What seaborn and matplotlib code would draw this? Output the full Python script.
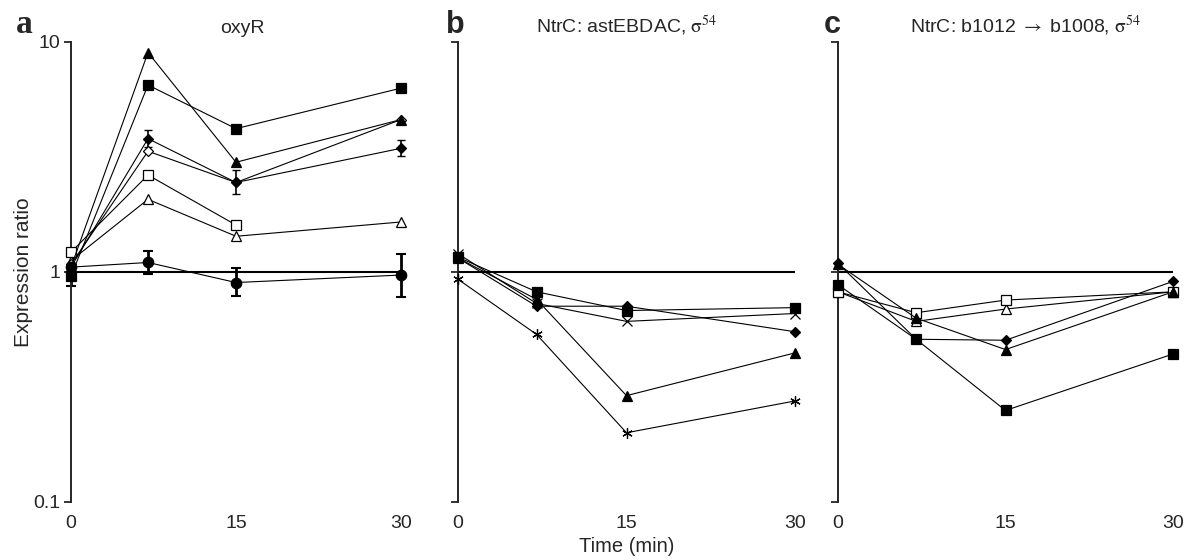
import numpy as np
import pandas as pd
import seaborn as sns
import matplotlib.pyplot as plt

sns.set_style("ticks")
plt.rcParams['font.family'] = ['Liberation Sans', 'DejaVu Sans']
plt.rcParams['mathtext.fontset'] = 'stix'

# time points (min)
t = [0, 7, 15, 30]
t_short = [0, 7, 15]

# panel a - oxyR
a_sq_fill = [0.96, 6.5, 4.2, 6.3]
a_tri_fill = [1.05, 9.0, 3.0, 4.6]
a_dia_fill = [1.05, 3.8, 2.45, 3.45]
a_dia_fill_lo = [0.0, 0.3, 0.26, 0.25]
a_dia_fill_hi = [0.0, 0.35, 0.34, 0.3]
a_dia_open = [1.08, 3.35, 2.45, 4.6]
a_sq_open = [1.22, 2.64, 1.6]
a_tri_open = [1.12, 2.07, 1.43, 1.65]
a_circ = [1.05, 1.1, 0.9, 0.97]
a_circ_lo = [0.18, 0.12, 0.11, 0.19]
a_circ_hi = [0.0, 0.14, 0.14, 0.23]

# panel b - NtrC: astEBDAC
b_sq = [1.16, 0.82, 0.68, 0.70]
b_dia = [1.15, 0.71, 0.71, 0.55]
b_tri = [1.15, 0.76, 0.29, 0.445]
b_x = [1.2, 0.73, 0.61, 0.66]
b_ast = [0.93, 0.535, 0.20, 0.275]

# panel c - NtrC: b1012 -> b1008
c_dia = [1.09, 0.51, 0.505, 0.91]
c_tri = [1.08, 0.63, 0.46, 0.82]
c_sq = [0.88, 0.51, 0.25, 0.44]
c_sq_open = [0.82, 0.665, 0.755, 0.82]
c_tri_open = [0.82, 0.61, 0.69, 0.82]

titles = ['oxyR', r'NtrC: astEBDAC, $\mathrm{\sigma}^{54}$',
          r'NtrC: b1012 $\rightarrow$ b1008, $\mathrm{\sigma}^{54}$']
letters = ['a', 'b', 'c']

fig = plt.figure(figsize=(11.95, 5.6), dpi=100)
W, H = 1195, 560
boxes = [(71, 401), (458, 795), (838, 1173)]
axes = []
for x0, x1 in boxes:
    ax = fig.add_axes([x0 / W, 1 - 502 / H, (x1 - x0) / W, 460 / H])
    axes.append(ax)


def series(ax, x, y, marker, filled=True, ms=7.5):
    sns.lineplot(x=x, y=y, ax=ax, color='k', linewidth=0.8, marker=marker,
                 markersize=ms, markerfacecolor='k' if filled else 'white',
                 markeredgecolor='k', markeredgewidth=0.9, errorbar=None,
                 clip_on=False, zorder=3)


ax = axes[0]
series(ax, t, a_tri_open, '^', False)
series(ax, t_short, a_sq_open, 's', False)
series(ax, t, a_dia_open, 'D', False, 5.5)
series(ax, t, a_dia_fill, 'D', True, 5.5)
series(ax, t, a_tri_fill, '^')
series(ax, t, a_sq_fill, 's')
series(ax, t, a_circ, 'o')
ax.errorbar(t, a_dia_fill, yerr=[a_dia_fill_lo, a_dia_fill_hi], fmt='none',
            ecolor='k', elinewidth=1.2, capsize=3, clip_on=False)
ax.errorbar(t, a_circ, yerr=[a_circ_lo, a_circ_hi], fmt='none',
            ecolor='k', elinewidth=2, capsize=3.5, capthick=1.5, clip_on=False)

ax = axes[1]
series(ax, t, b_ast, (6, 2, 0))
series(ax, t, b_x, 'x')
series(ax, t, b_tri, '^')
series(ax, t, b_dia, 'D', True, 5.5)
series(ax, t, b_sq, 's')

ax = axes[2]
series(ax, t, c_tri_open, '^', False)
series(ax, t, c_sq_open, 's', False)
series(ax, t, c_tri, '^')
series(ax, t, c_dia, 'D', True, 5.5)
series(ax, t, c_sq, 's')

for i, ax in enumerate(axes):
    ax.set_yscale('log')
    ax.set_ylim(0.1, 10)
    ax.set_xlim(0, 30)
    ax.axhline(1, color='k', lw=1.5, zorder=2)
    ax.set_yticks([0.1, 1, 10])
    ax.minorticks_off()
    ax.set_xticks([0, 15, 30])
    ax.set_xticklabels(['0', '15', '30'])
    ax.tick_params(axis='x', length=0, pad=9, labelsize=14)
    ax.tick_params(axis='y', length=5, width=1.3, direction='out', labelsize=14, pad=3)
    for s in ['top', 'right', 'bottom']:
        ax.spines[s].set_visible(False)
    ax.spines['left'].set_linewidth(1.4)
    ax.set_xlabel('')
    ax.set_ylabel('')
    if i == 0:
        ax.set_yticklabels(['0.1', '1', '10'])
    else:
        ax.set_yticklabels([])

axes[0].set_ylabel('Expression ratio', fontsize=15, labelpad=0)

fig.text(24 / W, 1 - 33 / H, letters[0], fontsize=24, fontweight='bold',
         ha='center', va='baseline', family='Liberation Serif')
fig.text(455 / W, 1 - 33 / H, letters[1], fontsize=22, fontweight='bold',
         ha='center', va='baseline')
fig.text(832 / W, 1 - 33 / H, letters[2], fontsize=22, fontweight='bold',
         ha='center', va='baseline')

fig.text(242 / W, 1 - 33 / H, titles[0], fontsize=14, ha='center', va='baseline')
fig.text(627 / W, 1 - 33 / H, titles[1], fontsize=14, ha='center', va='baseline')
fig.text(1026 / W, 1 - 33 / H, titles[2], fontsize=14, ha='center', va='baseline')

fig.text(627 / W, 1 - 552 / H, 'Time (min)', fontsize=14.5, ha='center', va='baseline')

fig.savefig('out.png', dpi=100)
